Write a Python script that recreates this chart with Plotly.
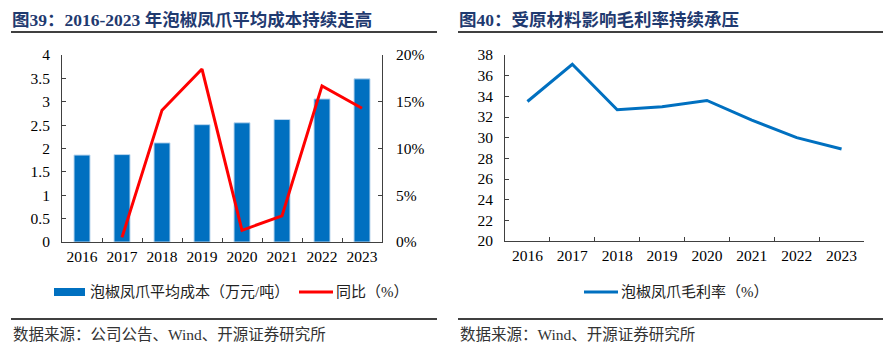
import plotly.graph_objects as go

years = ["2016", "2017", "2018", "2019", "2020", "2021", "2022", "2023"]
avg_cost = [1.86, 1.87, 2.12, 2.51, 2.55, 2.62, 3.06, 3.49]
yoy_pct = [None, 0.5, 14.1, 18.5, 1.25, 2.8, 16.7, 14.3]
gross_margin = [33.5, 37.1, 32.7, 33.0, 33.6, 31.7, 30.0, 28.9]

left_ticks = [0, 0.5, 1, 1.5, 2, 2.5, 3, 3.5, 4]
left_ticktext = ["0", "0.5", "1", "1.5", "2", "2.5", "3", "3.5", "4"]
right_pct_ticks = [0, 5, 10, 15, 20]
right_pct_text = ["0%", "5%", "10%", "15%", "20%"]
margin_ticks = [20, 22, 24, 26, 28, 30, 32, 34, 36, 38]

title_left = "图39：2016-2023 年泡椒凤爪平均成本持续走高"
title_right = "图40：受原材料影响毛利率持续承压"
legend_bar = "泡椒凤爪平均成本（万元/吨）"
legend_yoy = "同比（%）"
legend_margin = "泡椒凤爪毛利率（%）"
source_left = "数据来源：公司公告、Wind、开源证券研究所"
source_right = "数据来源：Wind、开源证券研究所"

W, H = 895, 352
FONT = "Liberation Serif, Noto Sans CJK SC, serif"
BLUE = "#0070C0"
RED = "#FF0000"
NAVY = "#1F3A70"
AXC = "#404040"


def px(x):
    return x / W


def py(y):
    return 1 - y / H


fig = go.Figure()

fig.add_trace(go.Bar(x=years, y=avg_cost, name=legend_bar, width=0.4,
                     marker=dict(color=BLUE, line=dict(color="#BDD7EE", width=1)),
                     xaxis="x", yaxis="y", showlegend=False))
fig.add_trace(go.Scatter(x=years, y=yoy_pct, name=legend_yoy, mode="lines",
                         line=dict(color=RED, width=3), xaxis="x", yaxis="y2",
                         showlegend=False))
fig.add_trace(go.Scatter(x=years, y=gross_margin, name=legend_margin, mode="lines",
                         line=dict(color=BLUE, width=3), xaxis="x2", yaxis="y3",
                         showlegend=False))

axis_common = dict(showgrid=False, zeroline=False, showline=True, linecolor=AXC,
                   linewidth=1, ticks="inside", ticklen=4, tickcolor=AXC,
                   automargin=False,
                   tickfont=dict(family=FONT, size=15.5, color="#000000"))

fig.update_layout(
    width=W, height=H, margin=dict(l=0, r=0, t=0, b=0, autoexpand=False),
    paper_bgcolor="white", plot_bgcolor="white",
    showlegend=False,
    xaxis=dict(domain=[px(62), px(382)], anchor="y", type="category",
               range=[-0.5, 7.5], tickson="boundaries", tickangle=0,
               **axis_common),
    yaxis=dict(domain=[py(242), py(55)], anchor="x", range=[0, 4],
               tickvals=left_ticks, ticktext=left_ticktext, ticklabelstandoff=8,
               **axis_common),
    yaxis2=dict(overlaying="y", anchor="x", side="right", range=[0, 20],
                tickvals=right_pct_ticks, ticktext=right_pct_text,
                ticklabelstandoff=10, **axis_common),
    xaxis2=dict(domain=[px(505), px(864)], anchor="y3", type="category",
                range=[-0.5, 7.5], tickson="boundaries", tickangle=0,
                **axis_common),
    yaxis3=dict(domain=[py(241), py(55)], anchor="x2", range=[20, 38],
                tickvals=margin_ticks, ticklabelstandoff=8, **axis_common),
)

shapes = []
for x0, x1 in [(11, 437), (458, 883)]:
    shapes.append(dict(type="line", xref="paper", yref="paper", x0=px(x0), x1=px(x1),
                       y0=py(32), y1=py(32), line=dict(color="#000000", width=1.5)))
    shapes.append(dict(type="line", xref="paper", yref="paper", x0=px(x0), x1=px(x1),
                       y0=py(319), y1=py(319), line=dict(color="#000000", width=1.5)))
# legend symbols
shapes.append(dict(type="rect", xref="paper", yref="paper", x0=px(54), x1=px(85),
                   y0=py(296), y1=py(288), fillcolor=BLUE, line=dict(width=0)))
shapes.append(dict(type="line", xref="paper", yref="paper", x0=px(299), x1=px(333),
                   y0=py(292), y1=py(292), line=dict(color=RED, width=3)))
shapes.append(dict(type="line", xref="paper", yref="paper", x0=px(584), x1=px(618),
                   y0=py(292), y1=py(292), line=dict(color=BLUE, width=3)))

annotations = []


def add_text(text, x, y, size, color="#000000", bold=False):
    t = f"<b>{text}</b>" if bold else text
    annotations.append(dict(text=t, xref="paper", yref="paper", x=px(x), y=py(y),
                            xanchor="left", yanchor="middle", showarrow=False,
                            font=dict(family=FONT, size=size, color=color)))


add_text(title_left, 10, 20, 17.5, NAVY, bold=True)
add_text(title_right, 457, 20, 17.5, NAVY, bold=True)
add_text(legend_bar, 88, 292, 15, "#222222")
add_text(legend_yoy, 334, 292, 15, "#222222")
add_text(legend_margin, 619, 292, 15, "#222222")
add_text(source_left, 11, 334, 15.5, "#333333")
add_text(source_right, 458, 334, 15.5, "#333333")

fig.update_layout(shapes=shapes, annotations=annotations)

fig.write_html("out.html")
